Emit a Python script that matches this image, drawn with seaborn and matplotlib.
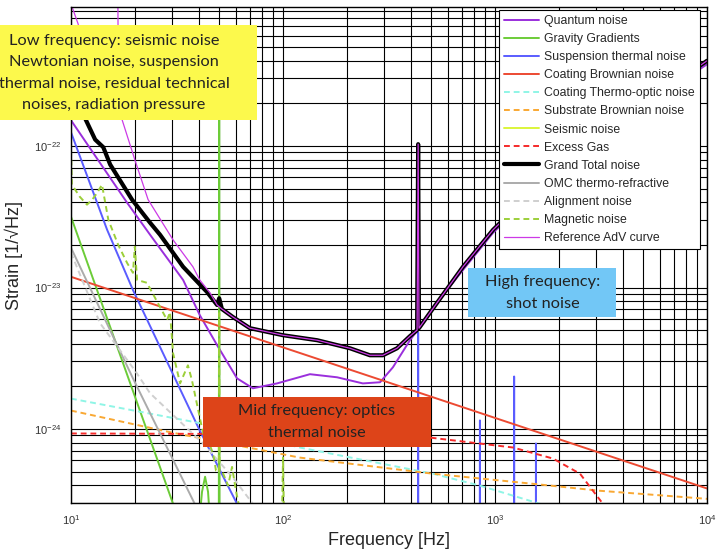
import matplotlib
matplotlib.use("Agg")
import numpy as np
import matplotlib.pyplot as plt
from matplotlib.patches import Rectangle
from matplotlib.ticker import (FixedLocator, LogLocator, LogFormatterSciNotation,
                               NullFormatter)
import seaborn as sns

sns.set_theme(style="white")
plt.rcParams["font.family"] = ["Liberation Sans", "DejaVu Sans"]
plt.rcParams["mathtext.default"] = "regular"

# ---------------------------------------------------------------------------
# Noise curves (frequency in Hz, strain in 1/sqrt(Hz))
# ---------------------------------------------------------------------------
quantum_f = [10, 18.4, 23.6, 33.8, 40.5, 48.9, 60.7, 72.1, 93.7, 134, 180, 238, 287,
             330, 397, 478, 532, 706, 980, 1816, 3126, 10000]
quantum_s = [1.52e-22, 3.97e-23, 2.36e-23, 1.13e-23, 6.38e-24, 3.91e-24, 2.28e-24,
             1.94e-24, 2.10e-24, 2.44e-24, 2.32e-24, 2.10e-24, 2.14e-24, 2.73e-24,
             4.24e-24, 6.18e-24, 7.77e-24, 1.33e-23, 2.44e-23, 5.98e-23, 1.15e-22, 3.78e-22]

gravity_f = [10, 30.3, 33, 40, 41.5, 42.9, 44.3, 45.5, 49.8, 50, 50.2, 52, 100]
gravity_s = [3.16e-23, 2.96e-25, 2e-25, 2e-25, 3.6e-25, 4.6e-25, 3.6e-25, 2e-25,
             2e-25, 2.0e-22, 2e-25, 2e-25, 1e-26]

susp_f = [10, 14.8, 19.6, 40.5, 60.7, 80, 300, 433, 434, 435, 845, 849, 853,
          1227, 1231, 1235, 1556, 1560, 1564, 10000]
susp_s = [1.25e-22, 2.56e-23, 9.6e-24, 9.75e-25, 2.96e-25, 1.5e-25, 1e-26, 1e-26,
          4.8e-24, 1e-26, 1e-26, 1.15e-24, 1e-26, 1e-26, 2.35e-24, 1e-26, 1e-26,
          7.9e-25, 1e-26, 1e-26]

coat_brown_f = [10, 10000]
coat_brown_s = [1.19e-23, 3.8e-25]

coat_to_f = [10, 42, 120, 510, 849, 1758, 3120, 10000]
coat_to_s = [1.64e-24, 1.09e-24, 7.4e-25, 4.83e-25, 3.98e-25, 2.86e-25, 2.2e-25, 1e-25]

substrate_f = [10, 29.9, 120, 510, 1510, 3126, 10000]
substrate_s = [1.35e-24, 9.44e-25, 6.28e-25, 4.83e-25, 4.1e-25, 3.66e-25, 3.21e-25]

seismic_f = [10, 12, 15]
seismic_s = [2e-25, 5e-26, 1e-26]

gas_f = [10, 100, 200, 493, 787, 1216, 1879, 2518, 2898, 3230, 3680]
gas_s = [9.3e-25, 9.2e-25, 9.0e-25, 8.7e-25, 8.0e-25, 7.4e-25, 6.18e-25, 4.83e-25,
         3.66e-25, 2.96e-25, 2.24e-25]

total_f = [10, 11.3, 13, 14.2, 15.3, 19.4, 23.6, 26.3, 33.8, 43.8, 48.9, 50, 51.5,
           58.1, 69.8, 100, 145, 207, 257, 296, 345, 397, 429, 434, 438, 532, 706,
           980, 1816, 3126, 10000]
total_s = [2.32e-22, 1.73e-22, 1.11e-22, 9.8e-23, 7.4e-23, 4.18e-23, 2.87e-23,
           2.36e-23, 1.40e-23, 9.3e-24, 7.52e-24, 8.4e-24, 7.05e-24, 6.18e-24, 5.16e-24,
           4.6e-24, 4.24e-24, 3.72e-24, 3.32e-24, 3.32e-24, 3.72e-24, 4.53e-24, 5.0e-24,
           1.03e-22, 5.16e-24, 7.77e-24, 1.40e-23, 2.56e-23, 6.28e-23, 1.21e-22, 4.0e-22]

omc_f = [10, 19.6, 40]
omc_s = [1.91e-23, 2.28e-24, 2.6e-25]

align_f = [10, 13.7, 20.0, 23.6, 42.0, 58.1, 72.1, 90]
align_s = [1.76e-23, 5.6e-24, 2.6e-24, 1.79e-24, 7.9e-25, 4.53e-25, 2.96e-25, 1.8e-25]

magnetic_f = [10, 10.1, 11.0, 11.9, 12.6, 13.3, 14.0, 15.0, 16.7, 18.4, 19.6, 20.0,
              20.5, 22.8, 26.3, 28.4, 29.3, 30.3, 32.7, 35.6, 37.2, 42.0, 44.3, 46.8,
              48.3, 49.8, 50, 50.2, 51.5, 55.1, 57.5, 60.0, 64.1, 98, 100, 102, 200]
magnetic_s = [9.4e-23, 5.33e-23, 4.38e-23, 3.85e-23, 4.18e-23, 4.68e-23, 5.33e-23,
              3.01e-23, 2.0e-23, 1.49e-23, 1.27e-23, 1.94e-23, 1.13e-23, 1.08e-23,
              7.28e-24, 5.89e-24, 6.7e-24, 3.43e-24, 2.10e-24, 2.82e-24, 2.21e-24,
              9.3e-25, 8.3e-25, 6.7e-25, 5.08e-25, 5.0e-25, 6.6e-24, 5.0e-25, 5.08e-25,
              3.98e-25, 5.4e-25, 3.66e-25, 2.24e-25, 1e-25, 6.3e-25, 1e-25, 1e-26]

ref_f = [16.6, 16.75, 17.4, 20.0, 23.1, 30.3, 37.6, 40.5, 45.3, 48.9, 51.5, 58.1,
         69.8, 100, 145, 207, 257, 296, 345, 397, 429, 434, 438, 532, 706, 980, 1816,
         3126, 10000]
ref_s = [2e-21, 1.9e-22, 1.54e-22, 8.0e-23, 4.18e-23, 2.17e-23, 1.40e-23, 1.13e-23,
         9.14e-24, 7.52e-24, 7.05e-24, 6.18e-24, 5.16e-24, 4.6e-24, 4.24e-24, 3.72e-24,
         3.32e-24, 3.32e-24, 3.72e-24, 4.53e-24, 5.0e-24, 1.03e-22, 5.16e-24, 7.77e-24,
         1.40e-23, 2.56e-23, 6.28e-23, 1.21e-22, 4.0e-22]
# short steep piece of the reference curve in the top-left corner
ref_wall_f = [9.8, 10.8, 12.5]
ref_wall_s = [1.1e-21, 7.3e-22, 3.5e-22]

x_ticks = [10, 100, 1000, 10000]
y_ticks = [1e-24, 1e-23, 1e-22]

# label, x, y, colour, width, style   (legend order = drawing order)
curves = [
    ("Quantum noise", quantum_f, quantum_s, "#9a2fdc", 1.4, "-"),
    ("Gravity Gradients", gravity_f, gravity_s, "#6ccc38", 1.4, "-"),
    ("Suspension thermal noise", susp_f, susp_s, "#5a5cff", 1.4, "-"),
    ("Coating Brownian noise", coat_brown_f, coat_brown_s, "#ec4a32", 1.4, "-"),
    ("Coating Thermo-optic noise", coat_to_f, coat_to_s, "#8ff5e6", 1.4, (0, (3, 2))),
    ("Substrate Brownian noise", substrate_f, substrate_s, "#f9a833", 1.4, (0, (3, 2))),
    ("Seismic noise", seismic_f, seismic_s, "#dcf53a", 1.4, "-"),
    ("Excess Gas", gas_f, gas_s, "#f52a2a", 1.4, (0, (3, 2))),
    ("Grand Total noise", total_f, total_s, "black", 3.0, "-"),
    ("OMC thermo-refractive", omc_f, omc_s, "#ababab", 1.4, "-"),
    ("Alignment noise", align_f, align_s, "#cfcfcf", 1.4, (0, (3, 2))),
    ("Magnetic noise", magnetic_f, magnetic_s, "#9ccf3a", 1.4, (0, (3, 2))),
    ("Reference AdV curve", ref_f, ref_s, "#cc3ae6", 0.9, "-"),
]

fig = plt.figure(figsize=(7.16, 5.49), dpi=100)
ax = fig.add_axes([71 / 716, 1 - 503 / 549, 636 / 716, 496 / 549])
ax.set_xscale("log")
ax.set_yscale("log")

for label, f, s, color, lw, ls in curves:
    sns.lineplot(x=f, y=s, ax=ax, color=color, lw=lw, linestyle=ls, label=label,
                 sort=False, estimator=None)

sns.lineplot(x=ref_wall_f, y=ref_wall_s, ax=ax, color="#cc3ae6", lw=0.9,
             sort=False, estimator=None, legend=False)

ax.set_xlim(10, 10000)
ax.set_ylim(3e-25, 9.6e-22)

# axes, grid, ticks
ax.xaxis.set_major_locator(FixedLocator(x_ticks))
ax.yaxis.set_major_locator(FixedLocator(y_ticks))
ax.xaxis.set_minor_locator(LogLocator(base=10, subs=np.arange(2, 10), numticks=20))
ax.yaxis.set_minor_locator(LogLocator(base=10, subs=np.arange(2, 10), numticks=20))
ax.xaxis.set_major_formatter(LogFormatterSciNotation())
ax.yaxis.set_major_formatter(LogFormatterSciNotation())
ax.xaxis.set_minor_formatter(NullFormatter())
ax.yaxis.set_minor_formatter(NullFormatter())
ax.set_axisbelow(True)
ax.grid(True, which="both", color="black", lw=0.8)
ax.tick_params(which="both", direction="in", length=3, labelsize=8,
               labelcolor="#333333", pad=7)
for sp in ax.spines.values():
    sp.set_color("black")
    sp.set_linewidth(1.0)

ax.set_xlabel("Frequency [Hz]", fontsize=13, labelpad=4)
ax.set_ylabel("Strain [1/\u221aHz]", fontsize=13, labelpad=8)

handles, labels = ax.get_legend_handles_labels()
leg = ax.legend(handles, labels, loc="upper right", bbox_to_anchor=(0.989, 0.994),
                borderaxespad=0, fontsize=8.8, frameon=True, fancybox=False,
                framealpha=1, edgecolor="black", handlelength=2.9,
                handletextpad=0.45, labelspacing=0.5, borderpad=0.4)
leg.get_frame().set_linewidth(0.8)

# coloured annotation boxes (pixel geometry of the picture)
W, H = 716, 549
boxes = [
    # x0, y0, x1, y1, colour, text, text centre x, text centre y
    (-30, 25, 257, 120, "#fcf94c",
     "Low frequency: seismic noise\nNewtonian noise, suspension\n"
     "thermal noise, residual technical\nnoises, radiation pressure", 114, 73),
    (468, 268, 616, 317, "#72c7f6", "High frequency:\nshot noise", 543, 293),
    (203, 397, 431, 447, "#dd4419", "Mid frequency: optics\nthermal noise", 317, 422),
]
for x0, y0, x1, y1, color, text, tx, ty in boxes:
    fig.add_artist(Rectangle((x0 / W, 1 - y1 / H), (x1 - x0) / W, (y1 - y0) / H,
                             transform=fig.transFigure, facecolor=color,
                             edgecolor="none", zorder=5))
    fig.text(tx / W, 1 - ty / H, text, ha="center", va="center", fontsize=11.8,
             family=["Lato", "DejaVu Sans"], color="#222222", linespacing=1.68,
             zorder=6)

fig.savefig("out.png", dpi=100)
plt.close(fig)
